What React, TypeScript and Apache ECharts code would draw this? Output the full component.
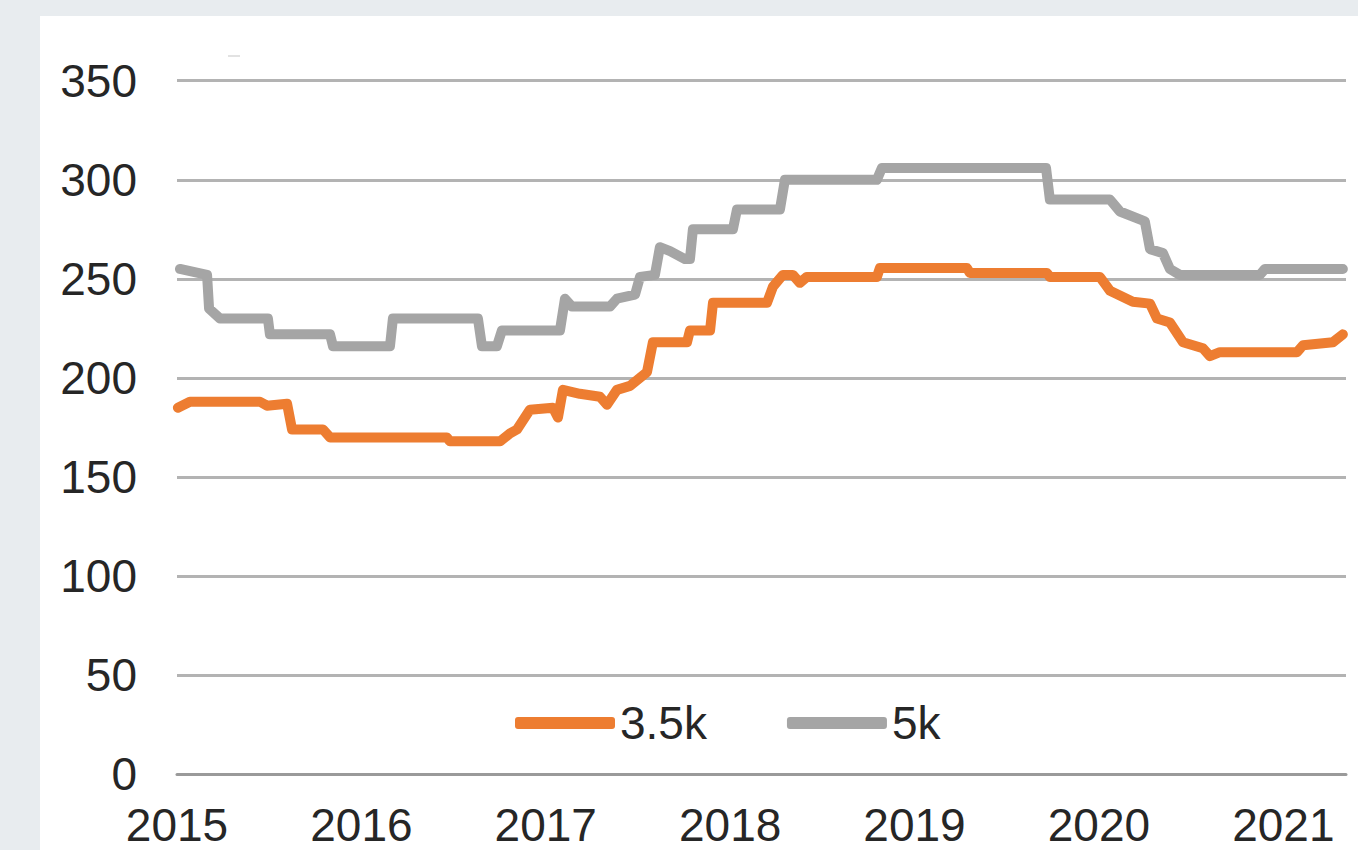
import React, { useEffect, useRef } from "react";
import * as echarts from "echarts";

// Year positions (fractional years) and values
const grayYears = [
  2015.016, 2015.163, 2015.174, 2015.233, 2015.493, 2015.504, 2015.83, 2015.846,
  2016.155, 2016.171, 2016.632, 2016.654, 2016.735, 2016.762, 2017.077, 2017.104,
  2017.142, 2017.348, 2017.386, 2017.484, 2017.511, 2017.592, 2017.619, 2017.674,
  2017.755, 2017.782, 2017.798, 2018.015, 2018.037, 2018.27, 2018.297, 2018.796,
  2018.823, 2019.713, 2019.734, 2020.06, 2020.114, 2020.222, 2020.249, 2020.277,
  2020.347, 2020.385, 2020.439, 2020.873, 2020.9, 2021.323,
];
const grayValues = [
  255, 252, 235, 230, 230, 222, 222, 216,
  216, 230, 230, 216, 216, 224, 224, 240,
  236, 236, 240, 242, 251, 252, 266, 264,
  260, 260, 275, 275, 285, 285, 300, 300,
  306, 306, 290, 290, 284, 280, 279, 265,
  263, 255, 252, 252, 255, 255,
];

const orangeYears = [
  2015.005, 2015.07, 2015.45, 2015.488, 2015.597, 2015.624, 2015.792, 2015.83,
  2016.464, 2016.48, 2016.752, 2016.806, 2016.844, 2016.914, 2017.039, 2017.066,
  2017.093, 2017.185, 2017.294, 2017.332, 2017.386, 2017.457, 2017.549, 2017.581,
  2017.766, 2017.782, 2017.891, 2017.907, 2018.2, 2018.232, 2018.286, 2018.34,
  2018.378, 2018.416, 2018.796, 2018.812, 2019.284, 2019.3, 2019.718, 2019.734,
  2020.005, 2020.06, 2020.184, 2020.277, 2020.315, 2020.385, 2020.456, 2020.564,
  2020.602, 2020.656, 2021.074, 2021.107, 2021.269, 2021.323,
];
const orangeValues = [
  185, 188, 188, 186, 187, 174, 174, 170,
  170, 168, 168, 172, 174, 184, 185, 180,
  194, 192, 190.5, 186.5, 194, 196, 203, 218,
  218, 224, 224, 238, 238, 246, 252, 252,
  248, 251, 251, 255.5, 255.5, 253, 253, 251,
  251, 244, 238.5, 237.5, 230, 228, 218, 215,
  211, 213, 213, 216.5, 218, 222,
];

const seriesNames = ["3.5k", "5k"];
const seriesColors = ["#ED7D31", "#A5A5A5"];
const xMin = 2015;
const xMax = 2021.34;
const yMin = 0;
const yMax = 350;
const yInterval = 50;

const FONT = "'Liberation Sans', Arial, 'DejaVu Sans', sans-serif";

export default function App() {
  const ref = useRef<HTMLDivElement>(null);

  useEffect(() => {
    if (!ref.current) return;
    const chart = echarts.init(ref.current, undefined, { renderer: "svg" });
    const orangeData = orangeYears.map((x, i) => [x, orangeValues[i]]);
    const grayData = grayYears.map((x, i) => [x, grayValues[i]]);
    chart.setOption({
      animation: false,
      backgroundColor: "transparent",
      grid: { left: 177, right: 12, top: 80.7, bottom: 850 - 774.3 },
      legend: {
        data: seriesNames,
        left: 510,
        top: 695,
        icon: "roundRect",
        itemWidth: 100,
        itemHeight: 12,
        itemGap: 80,
        textStyle: { fontSize: 46, color: "#262626", fontFamily: FONT },
      },
      xAxis: {
        type: "value",
        min: xMin,
        max: xMax,
        interval: 1,
        axisLine: { show: true, lineStyle: { color: "#9a9a9a", width: 3 } },
        axisTick: { show: false },
        splitLine: { show: false },
        axisLabel: {
          fontSize: 46,
          color: "#262626",
          fontFamily: FONT,
          margin: 28,
          showMaxLabel: false,
          formatter: (v: number) => (Number.isInteger(v) ? String(v) : ""),
        },
      },
      yAxis: {
        type: "value",
        min: yMin,
        max: yMax,
        interval: yInterval,
        axisLine: { show: false },
        axisTick: { show: false },
        splitLine: { lineStyle: { color: "#b3b3b3", width: 3 } },
        axisLabel: {
          fontSize: 46,
          color: "#262626",
          fontFamily: FONT,
          margin: 40,
        },
      },
      series: [
        {
          name: seriesNames[0],
          type: "line",
          data: orangeData,
          showSymbol: false,
          symbol: "none",
          color: seriesColors[0],
          lineStyle: { width: 10, color: seriesColors[0], cap: "round", join: "round" },
          z: 3,
        },
        {
          name: seriesNames[1],
          type: "line",
          data: grayData,
          showSymbol: false,
          symbol: "none",
          color: seriesColors[1],
          lineStyle: { width: 10, color: seriesColors[1], cap: "round", join: "round" },
          z: 2,
        },
      ],
    });
    return () => chart.dispose();
  }, []);

  return (
    <div
      style={{
        position: "absolute",
        left: 0,
        top: 0,
        width: 1358,
        height: 850,
        background: "#e8ecef",
        overflow: "hidden",
      }}
    >
      <div
        style={{
          position: "absolute",
          left: 40,
          top: 16,
          width: 1318,
          height: 834,
          background: "#ffffff",
        }}
      />
      <div
        style={{
          position: "absolute",
          left: 228,
          top: 55,
          width: 12,
          height: 2,
          background: "#e2e2e2",
        }}
      />
      <div
        ref={ref}
        style={{ position: "absolute", left: 0, top: 0, width: 1358, height: 850 }}
      />
    </div>
  );
}
